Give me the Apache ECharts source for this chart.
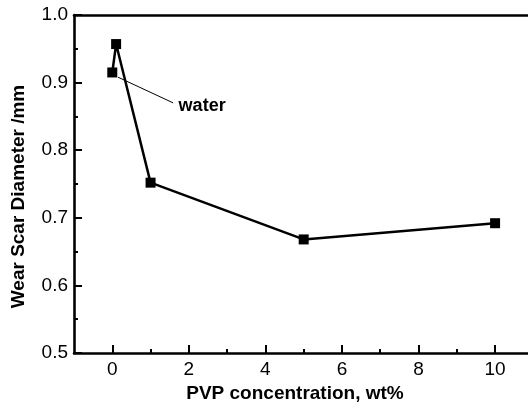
<!DOCTYPE html>
<html>
<head>
<meta charset="utf-8">
<script src="https://cdn.jsdelivr.net/npm/echarts@6/dist/echarts.min.js"></script>
<style>
html,body{margin:0;padding:0;background:#fff;}
#chart{width:528px;height:408px;}
</style>
</head>
<body>
<div id="chart"></div>
<script>
// Data
var concentration = [0, 0.1, 1, 5, 10];
var wearScar = [0.915, 0.957, 0.752, 0.668, 0.692];
var xMajorTicks = [0, 2, 4, 6, 8, 10];
var xMinorTicks = [1, 3, 5, 7, 9];
var yTicks = [0.5, 0.6, 0.7, 0.8, 0.9, 1.0];
var annotationLineX = [0.15, 1.59];
var annotationLineY = [0.908, 0.870];
var annotationText = 'water';
var annotationAt = [1.72, 0.866];

var xMin = -1, xMax = 10.86, yMin = 0.5, yMax = 1.0;
var tickFont = 'Liberation Sans, Arial, sans-serif';

var chart = echarts.init(document.getElementById('chart'), null, {renderer: 'canvas'});
var option = {
  backgroundColor: '#fff',
  animation: false,
  grid: {left: 74, right: 0, top: 15, bottom: 55, containLabel: false},
  xAxis: [
    {
      type: 'value', min: xMin, max: xMax, position: 'bottom',
      axisLine: {show: true, onZero: false, lineStyle: {color: '#000', width: 2.6}},
      axisTick: {show: true, inside: true, length: 8, customValues: xMajorTicks, lineStyle: {color: '#000', width: 2}},
      axisLabel: {show: true, customValues: xMajorTicks, margin: 7, color: '#000', fontSize: 19, fontFamily: tickFont},
      splitLine: {show: false},
      name: 'PVP concentration, wt%', nameLocation: 'middle', nameGap: 29,
      nameTextStyle: {color: '#000', fontSize: 19, fontWeight: 'bold', fontFamily: tickFont, padding: [0, 12, 0, 0]}
    },
    {
      type: 'value', min: xMin, max: xMax, position: 'bottom',
      axisLine: {show: false, onZero: false},
      axisTick: {show: true, inside: true, length: 4, customValues: xMinorTicks, lineStyle: {color: '#000', width: 2}},
      axisLabel: {show: false},
      splitLine: {show: false}
    },
    {
      type: 'value', min: xMin, max: xMax, position: 'top',
      axisLine: {show: true, onZero: false, lineStyle: {color: '#000', width: 2.6}},
      axisTick: {show: false}, axisLabel: {show: false}, splitLine: {show: false}
    }
  ],
  yAxis: [
    {
      type: 'value', min: yMin, max: yMax, interval: 0.1, position: 'left',
      axisLine: {show: true, onZero: false, lineStyle: {color: '#000', width: 2.6}},
      axisTick: {show: true, inside: true, length: 8, lineStyle: {color: '#000', width: 2}},
      minorTick: {show: true, splitNumber: 2, length: 4, lineStyle: {color: '#000', width: 2}},
      axisLabel: {show: true, margin: 6, color: '#000', fontSize: 19, fontFamily: tickFont,
        formatter: function (v) { return v.toFixed(1); }},
      splitLine: {show: false},
      name: 'Wear Scar Diameter /mm', nameLocation: 'middle', nameGap: 46, nameRotate: 90,
      nameTextStyle: {color: '#000', fontSize: 19, fontWeight: 'bold', fontFamily: tickFont, padding: [0, 25, 0, 0]}
    }
  ],
  series: [
    {
      type: 'line', xAxisIndex: 0, yAxisIndex: 0,
      data: concentration.map(function (x, i) { return [x, wearScar[i]]; }),
      symbol: 'rect', symbolSize: 10,
      itemStyle: {color: '#000'},
      lineStyle: {color: '#000', width: 2.5},
      z: 3
    },
    {
      type: 'line', xAxisIndex: 0, yAxisIndex: 0,
      data: annotationLineX.map(function (x, i) { return [x, annotationLineY[i]]; }),
      symbol: 'none', lineStyle: {color: '#000', width: 1}, silent: true, z: 2
    },
    {
      type: 'scatter', xAxisIndex: 0, yAxisIndex: 0,
      data: [annotationAt], symbolSize: 1,
      itemStyle: {color: '#000', opacity: 0},
      label: {show: true, position: 'right', distance: 0, formatter: annotationText,
        color: '#000', opacity: 1, fontSize: 18, fontWeight: 'bold', fontFamily: tickFont,
        textBorderWidth: 0, textShadowBlur: 0},
      silent: true
    }
  ]
};
chart.setOption(option);
</script>
</body>
</html>
